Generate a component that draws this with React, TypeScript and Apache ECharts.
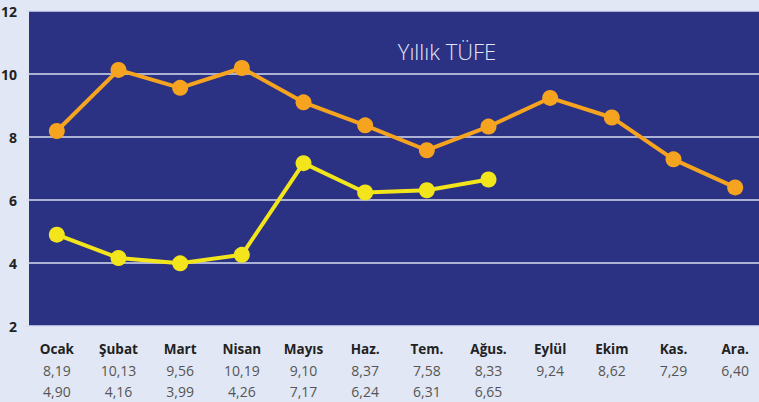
import React, { useEffect, useRef } from "react";
import * as echarts from "echarts";

const months = ["Ocak", "Şubat", "Mart", "Nisan", "Mayıs", "Haz.", "Tem.", "Ağus.", "Eylül", "Ekim", "Kas.", "Ara."];
const series2023 = [8.19, 10.13, 9.56, 10.19, 9.1, 8.37, 7.58, 8.33, 9.24, 8.62, 7.29, 6.4];
const series2024 = [4.9, 4.16, 3.99, 4.26, 7.17, 6.24, 6.31, 6.65];
const yTicks = { min: 2, max: 12, interval: 2 };
const title = "Yıllık TÜFE";

const fmt = (v: number | undefined) => (v === undefined ? "" : v.toFixed(2).replace(".", ","));

export default function App() {
  const ref = useRef<HTMLDivElement>(null);
  useEffect(() => {
    const chart = echarts.init(ref.current!, null, { renderer: "svg" });
    chart.setOption({
      animation: false,
      backgroundColor: "#e1e7f4",
      textStyle: { fontFamily: "Open Sans" },
      graphic: [
        {
          type: "rect",
          z: -10,
          shape: { x: 29, y: 11, width: 740, height: 315 },
          style: { fill: "#2b3183" },
        },
        {
          type: "text",
          z: 10,
          x: 447,
          y: 51,
          style: {
            text: title,
            fill: "#e4e6f3",
            font: "300 22px 'Open Sans'",
            align: "center",
            verticalAlign: "middle",
          },
        },
      ],
      grid: { left: 26, width: 740, top: 11, bottom: 76, containLabel: false, outerBoundsMode: "none" },
      xAxis: {
        type: "category",
        data: months,
        boundaryGap: true,
        axisLine: { show: false },
        axisTick: { show: false },
        splitLine: { show: false },
        axisLabel: {
          margin: 12,
          interval: 0,
          formatter: (name: string, i: number) => {
            const lines = [`{b|${name}}`, `{v|${fmt(series2023[i])}}`];
            if (series2024[i] !== undefined) lines.push(`{v|${fmt(series2024[i])}}`);
            return lines.join("\n");
          },
          rich: {
            b: { fontFamily: "Open Sans", fontWeight: "bold", fontSize: 13.5, color: "#222", lineHeight: 22 },
            v: { fontFamily: "Open Sans", fontSize: 14, color: "#555", lineHeight: 21 },
          },
        },
      },
      yAxis: {
        type: "value",
        min: yTicks.min,
        max: yTicks.max,
        interval: yTicks.interval,
        axisLine: { show: false },
        axisTick: { show: false },
        axisLabel: {
          margin: 9,
          fontFamily: "Open Sans",
          fontWeight: "bold",
          fontSize: 14,
          color: "#222",
        },
        splitLine: { show: true, lineStyle: { color: "#d8ddf2", width: 1.5 } },
      },
      series: [
        {
          type: "line",
          data: series2023,
          symbol: "circle",
          symbolSize: 16,
          lineStyle: { color: "#f6a420", width: 4 },
          itemStyle: { color: "#f6a420" },
          z: 3,
        },
        {
          type: "line",
          data: series2024,
          symbol: "circle",
          symbolSize: 16,
          lineStyle: { color: "#f2e51b", width: 4 },
          itemStyle: { color: "#f2e51b" },
          z: 4,
        },
      ],
    });
    return () => chart.dispose();
  }, []);
  return <div ref={ref} style={{ width: 759, height: 402, position: "absolute", left: 0, top: 0 }} />;
}
